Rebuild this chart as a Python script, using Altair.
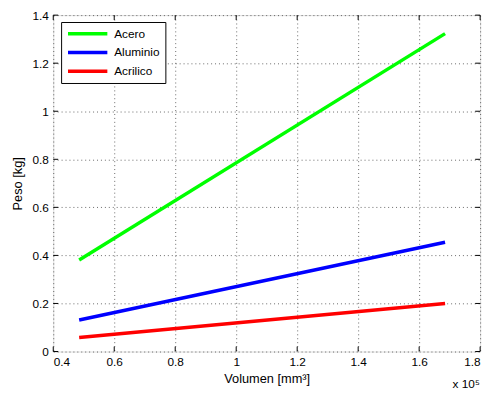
import altair as alt
import pandas as pd

volumen = [0.485, 1.685]
acero = [0.381, 1.323]
aluminio = [0.131, 0.455]
acrilico = [0.058, 0.200]
series = ["Acero", "Aluminio", "Acrilico"]
colors = ["#00FF00", "#0000FF", "#FF0000"]
x_ticks = [0.4, 0.6, 0.8, 1.0, 1.2, 1.4, 1.6, 1.8]
y_ticks = [0, 0.2, 0.4, 0.6, 0.8, 1.0, 1.2, 1.4]

W, H = 434, 342
FONT = "Liberation Sans"

rows = []
for name, vals in zip(series, [acero, aluminio, acrilico]):
    for v, p in zip(volumen, vals):
        rows.append({"Volumen": v, "Peso": p, "Material": name})
df = pd.DataFrame(rows)
dx = pd.DataFrame({"t": x_ticks})
dy = pd.DataFrame({"t": y_ticks})

xs = alt.Scale(domain=[0.4, 1.8], nice=False, zero=False)
ys = alt.Scale(domain=[0, 1.4], nice=False, zero=False)

common = dict(grid=True, gridDash=[1, 3], gridColor="#000000", gridOpacity=0.6,
              ticks=False, domain=False, labelPadding=5,
              labelFontSize=12, titleFontSize=13, labelFont=FONT, titleFont=FONT,
              labelColor="#000", titleColor="#000", titleFontWeight="normal")

lines = alt.Chart(df).mark_line(strokeWidth=3.5, strokeCap="butt").encode(
    x=alt.X("Volumen:Q", scale=xs,
            axis=alt.Axis(values=x_ticks, format="~g", title="Volumen [mm³]",
                          titlePadding=5, **common)),
    y=alt.Y("Peso:Q", scale=ys,
            axis=alt.Axis(values=y_ticks, format="~g", title="Peso [kg]",
                          titlePadding=8, **common)),
    color=alt.Color("Material:N", sort=series,
                    scale=alt.Scale(domain=series, range=colors),
                    legend=alt.Legend(title=None, orient="none", legendX=8, legendY=7,
                                      symbolType="M-4,0H4", symbolSize=100,
                                      symbolStrokeWidth=3.5, symbolOffset=15,
                                      labelFont=FONT, labelFontSize=12, labelColor="#000",
                                      strokeColor="#000", fillColor="#fff", padding=5,
                                      rowPadding=5, labelOffset=20)),
)

tick_len = 5
bx = alt.Chart(dx).mark_rule(color="#000", strokeWidth=1).encode(
    x=alt.X("t:Q", scale=xs), y=alt.value(H), y2=alt.value(H - tick_len))
tx = alt.Chart(dx).mark_rule(color="#000", strokeWidth=1).encode(
    x=alt.X("t:Q", scale=xs), y=alt.value(0), y2=alt.value(tick_len))
ly = alt.Chart(dy).mark_rule(color="#000", strokeWidth=1).encode(
    y=alt.Y("t:Q", scale=ys), x=alt.value(0), x2=alt.value(tick_len))
ry = alt.Chart(dy).mark_rule(color="#000", strokeWidth=1).encode(
    y=alt.Y("t:Q", scale=ys), x=alt.value(W), x2=alt.value(W - tick_len))

exp_text = alt.Chart(pd.DataFrame({"s": ["x 10⁵"]})).mark_text(
    font=FONT, fontSize=12, color="#000", align="left", baseline="middle").encode(
    text="s:N", x=alt.value(406), y=alt.value(375))

chart = alt.layer(lines, bx, tx, ly, ry, exp_text).properties(
    width=W, height=H, autosize="none",
    padding={"left": 46, "top": 4, "right": 8, "bottom": 44},
).configure_view(stroke="#000", strokeWidth=1).configure(background="white")

chart.save("out.html", embed_options={"renderer": "svg", "actions": False})
